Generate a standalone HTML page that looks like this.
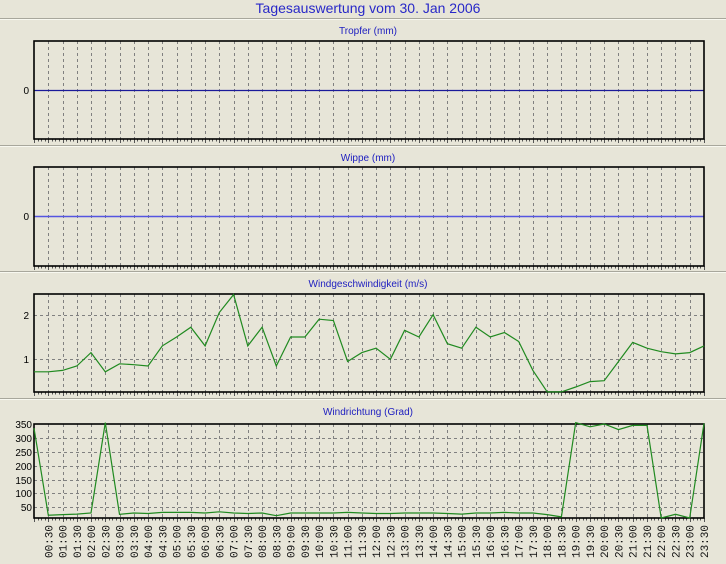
<!DOCTYPE html>
<html><head><meta charset="utf-8"><style>
html,body{margin:0;padding:0;background:#e7e5d8;}
svg{display:block;}
text{font-family:"Liberation Sans",sans-serif;}
.t{fill:#2020c0;font-size:10px;text-anchor:middle;}
.y{font-size:10px;text-anchor:end;fill:#000;}
.x{font-family:"Liberation Mono",monospace;font-size:11px;text-anchor:end;fill:#111;}
</style></head><body>
<svg id="s" width="726" height="564" xmlns="http://www.w3.org/2000/svg">
<rect width="726" height="564" fill="#e7e5d8"/>
<text x="368" y="13" style="font-size:14px;fill:#2828c8;text-anchor:middle">Tagesauswertung vom 30. Jan 2006</text>
<text class="t" x="368" y="34">Tropfer (mm)</text>
<text class="t" x="368" y="161">Wippe (mm)</text>
<text class="t" x="368" y="287">Windgeschwindigkeit (m/s)</text>
<text class="t" x="368" y="415">Windrichtung (Grad)</text>
<text class="y" x="29" y="94">0</text>
<text class="y" x="29" y="220">0</text>
<text class="y" x="29" y="319">2</text>
<text class="y" x="29" y="363">1</text>
<text class="y" x="32" y="428">350</text>
<text class="y" x="32" y="442">300</text>
<text class="y" x="32" y="456">250</text>
<text class="y" x="32" y="470">200</text>
<text class="y" x="32" y="484">150</text>
<text class="y" x="32" y="497">100</text>
<text class="y" x="32" y="511">50</text>
<g id="g"></g>
<g id="lab">
<text class="x" transform="translate(52.25,525) rotate(-90)">00:30</text>
<text class="x" transform="translate(66.5,525) rotate(-90)">01:00</text>
<text class="x" transform="translate(80.75,525) rotate(-90)">01:30</text>
<text class="x" transform="translate(95,525) rotate(-90)">02:00</text>
<text class="x" transform="translate(109.25,525) rotate(-90)">02:30</text>
<text class="x" transform="translate(123.5,525) rotate(-90)">03:00</text>
<text class="x" transform="translate(137.75,525) rotate(-90)">03:30</text>
<text class="x" transform="translate(152,525) rotate(-90)">04:00</text>
<text class="x" transform="translate(166.25,525) rotate(-90)">04:30</text>
<text class="x" transform="translate(180.5,525) rotate(-90)">05:00</text>
<text class="x" transform="translate(194.75,525) rotate(-90)">05:30</text>
<text class="x" transform="translate(209,525) rotate(-90)">06:00</text>
<text class="x" transform="translate(223.25,525) rotate(-90)">06:30</text>
<text class="x" transform="translate(237.5,525) rotate(-90)">07:00</text>
<text class="x" transform="translate(251.75,525) rotate(-90)">07:30</text>
<text class="x" transform="translate(266,525) rotate(-90)">08:00</text>
<text class="x" transform="translate(280.25,525) rotate(-90)">08:30</text>
<text class="x" transform="translate(294.5,525) rotate(-90)">09:00</text>
<text class="x" transform="translate(308.75,525) rotate(-90)">09:30</text>
<text class="x" transform="translate(323,525) rotate(-90)">10:00</text>
<text class="x" transform="translate(337.25,525) rotate(-90)">10:30</text>
<text class="x" transform="translate(351.5,525) rotate(-90)">11:00</text>
<text class="x" transform="translate(365.75,525) rotate(-90)">11:30</text>
<text class="x" transform="translate(380,525) rotate(-90)">12:00</text>
<text class="x" transform="translate(394.25,525) rotate(-90)">12:30</text>
<text class="x" transform="translate(408.5,525) rotate(-90)">13:00</text>
<text class="x" transform="translate(422.75,525) rotate(-90)">13:30</text>
<text class="x" transform="translate(437,525) rotate(-90)">14:00</text>
<text class="x" transform="translate(451.25,525) rotate(-90)">14:30</text>
<text class="x" transform="translate(465.5,525) rotate(-90)">15:00</text>
<text class="x" transform="translate(479.75,525) rotate(-90)">15:30</text>
<text class="x" transform="translate(494,525) rotate(-90)">16:00</text>
<text class="x" transform="translate(508.25,525) rotate(-90)">16:30</text>
<text class="x" transform="translate(522.5,525) rotate(-90)">17:00</text>
<text class="x" transform="translate(536.75,525) rotate(-90)">17:30</text>
<text class="x" transform="translate(551,525) rotate(-90)">18:00</text>
<text class="x" transform="translate(565.25,525) rotate(-90)">18:30</text>
<text class="x" transform="translate(579.5,525) rotate(-90)">19:00</text>
<text class="x" transform="translate(593.75,525) rotate(-90)">19:30</text>
<text class="x" transform="translate(608,525) rotate(-90)">20:00</text>
<text class="x" transform="translate(622.25,525) rotate(-90)">20:30</text>
<text class="x" transform="translate(636.5,525) rotate(-90)">21:00</text>
<text class="x" transform="translate(650.75,525) rotate(-90)">21:30</text>
<text class="x" transform="translate(665,525) rotate(-90)">22:00</text>
<text class="x" transform="translate(679.25,525) rotate(-90)">22:30</text>
<text class="x" transform="translate(693.5,525) rotate(-90)">23:00</text>
<text class="x" transform="translate(707.75,525) rotate(-90)">23:30</text>
</g>
</svg>
<script>
var g=document.getElementById('g'),NS='http://www.w3.org/2000/svg';
function el(t,a){var e=document.createElementNS(NS,t);for(var k in a)e.setAttribute(k,a[k]);g.appendChild(e);return e;}
var L=34,R=704,dx=(R-L)/47;
function X(i){return L+i*dx;}
[18,145,271,398].forEach(function(y){el('line',{x1:0,x2:726,y1:y+.5,y2:y+.5,stroke:'#a8a79c'});el('line',{x1:0,x2:726,y1:y+1.5,y2:y+1.5,stroke:'#f8f8f0'});});
var panels=[[41,139],[167,266],[294,392],[424,518]];
panels.forEach(function(p){
 var t=p[0],b=p[1];
 for(var i=1;i<47;i++){var x=Math.round(X(i))+.5;el('line',{x1:x,x2:x,y1:t,y2:b,stroke:'#808080','stroke-width':1,'stroke-dasharray':'3,3'});}
 for(var j=0;j<=47*4;j++){var x=Math.round(L+j*dx/4)+.5;el('line',{x1:x,x2:x,y1:b,y2:b+(j%4==0?4:2.5),stroke:'#555'});}
});
function hg(y){el('line',{x1:L,x2:R,y1:y+.5,y2:y+.5,stroke:'#808080','stroke-dasharray':'3,3'});}
hg(315);hg(359);
[50,100,150,200,250,300].forEach(function(v){hg(Math.round(521.3-v*13.9/50));});
el('line',{x1:L,x2:R,y1:90.5,y2:90.5,stroke:'#1a1a9a','stroke-width':1.3});
el('line',{x1:L,x2:R,y1:216.5,y2:216.5,stroke:'#5555e0','stroke-width':1.5});
panels.forEach(function(p){
 el('rect',{x:L,y:p[0],width:R-L,height:p[1]-p[0],fill:'none',stroke:'#000','stroke-width':1.6});
});
var ws=[0.72,0.72,0.75,0.85,1.15,0.72,0.9,0.88,0.85,1.3,1.5,1.72,1.3,2.05,2.45,1.3,1.72,0.85,1.5,1.5,1.9,1.87,0.95,1.15,1.25,1.0,1.65,1.5,2.0,1.35,1.25,1.72,1.5,1.6,1.4,0.75,0.27,0.27,0.38,0.5,0.52,0.95,1.38,1.25,1.17,1.12,1.15,1.3];
var pts=ws.map(function(v,i){return X(i).toFixed(1)+','+(359.3-(v-1)*44.6).toFixed(1);}).join(' ');
el('polyline',{points:pts,fill:'none',stroke:'#208a20','stroke-width':1.2});
var wd=[335,22,24,26,30,355,25,30,28,32,32,32,30,34,30,28,30,20,30,30,30,30,32,30,28,28,30,30,30,28,26,30,30,32,30,30,24,16,355,340,350,330,345,345,12,25,8,352];
pts=wd.map(function(v,i){return X(i).toFixed(1)+','+Math.min(518,521.3-v*13.9/50).toFixed(1);}).join(' ');
el('polyline',{points:pts,fill:'none',stroke:'#208a20','stroke-width':1.2});
</script>
</body></html>
